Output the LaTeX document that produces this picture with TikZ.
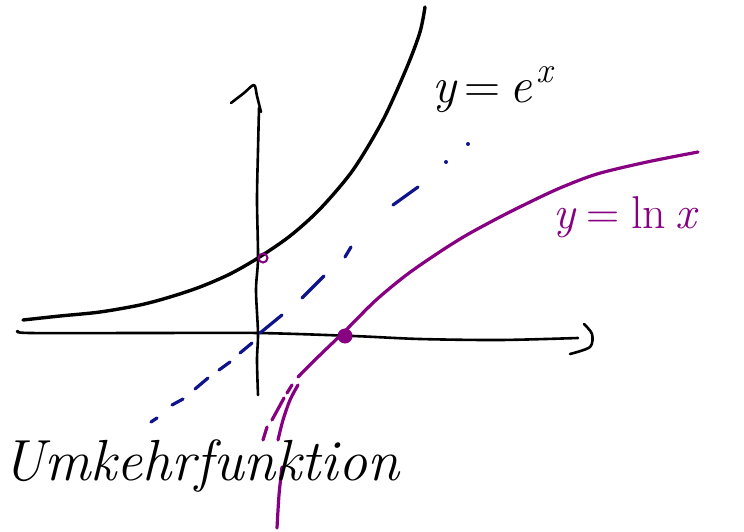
\documentclass[tikz,border=0pt]{standalone}
\usepackage{fontspec}
\definecolor{lnpurple}{RGB}{135,0,130}
\definecolor{idblue}{RGB}{15,20,140}
\tikzset{
  axisline/.style={line width=2.6pt, black, line cap=round, line join=round},
  expline/.style={line width=3.4pt, black, line cap=round, line join=round},
  lnline/.style={line width=3.2pt, lnpurple, line cap=round, line join=round},
  idline/.style={line width=3.2pt, idblue, line cap=round},
  lbl/.style={inner sep=0pt, anchor=base west}
}
\begin{document}
\begin{tikzpicture}[x=1pt,y=-1pt]
\useasboundingbox (0,0) rectangle (744,532);
% x-axis
\draw[axisline] plot[smooth] coordinates {(18,331) (30,333) (150,333) (258,333) (353,336) (420,339) (500,340) (578,338)};
\draw[axisline] plot[smooth] coordinates {(584,324) (592,334) (590,347) (570,354)};
% y-axis
\draw[axisline] plot[smooth] coordinates {(258,395) (257,360) (258,333) (256,290) (258,258) (257,200) (258,150) (259,108)};
\draw[axisline] plot[smooth] coordinates {(231,103) (244,93) (254,85) (257,96) (261,112)};
% e^x
\draw[expline] plot[smooth] coordinates {(23,320) (60,316) (100,312) (140,305) (170,297) (200,287) (230,274) (258,258) (290,236) (320,209) (353,170) (383,120) (407,67) (420,32) (425,7)};
% identity (dash-dot)
\draw[idline] (151,422) -- (157,418);
\draw[idline] (172,405) -- (183,399);
\draw[idline] (195,389) -- (208,378);
\draw[idline] (219,370) -- (230,362);
\draw[idline] (240,353) -- (252,343);
\draw[idline] (260,333) -- (282,315);
\draw[idline] (302,298) -- (324,276);
\draw[idline] (345,257) -- (351,247);
\draw[idline] (393,205) -- (418,187);
\fill[idblue] (446,162) circle (2);
\fill[idblue] (468,144) circle (2);
% ln x
\draw[lnline] plot[smooth] coordinates {(298,377) (320,355) (345,331) (375,301) (405,276) (435,255) (465,236) (500,217) (530,202) (560,188) (597,174) (647,162) (698,152)};
\draw[lnline] plot[smooth] coordinates {(298,385) (290,400) (283,420) (278,440)};
\draw[lnline] plot[smooth] coordinates {(282,467) (279,495) (277,528)};
\draw[lnline] (292,385) -- (287,393);
\draw[lnline] (284,398) -- (272,420);
\draw[lnline] (267,427) -- (263,440);
% markers
\node[circle, draw=lnpurple, line width=2pt, minimum size=9pt, inner sep=0pt] (p01) at (263,258) {};
\node[circle, fill=lnpurple, minimum size=15pt, inner sep=0pt] (p10) at (345,336) {};
% labels
\node[lbl] (lexp) at (432,103) {\fontsize{50}{60}\selectfont\itshape y\hspace{0.18em}\upshape=\hspace{0.18em}\itshape e\hspace{0.08em}\raisebox{0.42em}{\fontsize{36}{40}\selectfont x}};
\node[lbl, text=lnpurple] (lln) at (553,228) {\fontsize{46}{60}\selectfont\itshape y\hspace{0.25em}\upshape=\hspace{0.25em}ln\hspace{0.2em}\itshape x};
\node[lbl] (lumk) at (2,480) {\fontsize{58}{70}\selectfont\itshape Umkehrfunktion};
\end{tikzpicture}
\end{document}
